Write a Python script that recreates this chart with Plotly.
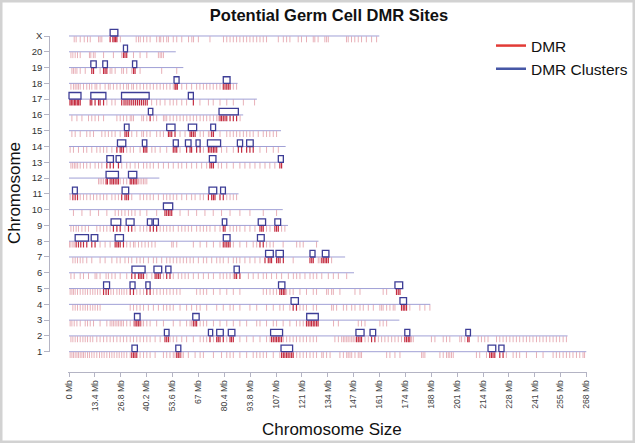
import plotly.graph_objects as go

# ---------------- data ----------------
chromosomes = ["1", "2", "3", "4", "5", "6", "7", "8", "9", "10", "11", "12", "13",
               "14", "15", "16", "17", "18", "19", "20", "X"]
chrom_length_mb = [267.9, 258.2, 171.1, 187.1, 173.1, 147.6, 143.0, 129.2, 113.4, 110.7,
                   87.8, 46.8, 111.2, 112.2, 109.8, 90.2, 97.3, 87.3, 59.2, 55.3, 160.7]

x_tick_values = [0, 13.4, 26.8, 40.2, 53.6, 67, 80.4, 93.8, 107.2, 120.6, 134, 147.4, 160.8,
                 174.2, 187.6, 201, 214.4, 227.8, 241.2, 254.6, 268]
x_tick_labels = ["0 Mb", "13.4 Mb", "26.8 Mb", "40.2 Mb", "53.6 Mb", "67 Mb", "80.4 Mb",
                 "93.8 Mb", "107 Mb", "121 Mb", "134 Mb", "147 Mb", "161 Mb", "174 Mb",
                 "188 Mb", "201 Mb", "214 Mb", "228 Mb", "241 Mb", "255 Mb", "268 Mb"]

# DMR positions (Mb) per chromosome
dmr_chr1 = [0.6, 1.5, 2.3, 3.2, 4.1, 4.9, 5.8, 6.7, 7.5, 8.4, 9.6, 10.6, 11.8, 13, 14.4, 15.8, 17,
            18.2, 19.6, 21, 22.2, 23.4, 24.8, 26, 27.3, 28.5, 29.9, 31.7, 32.5, 33.4, 34.2, 35.1,
            36.8, 38.6, 40.3, 42, 44.6, 48.9, 50.6, 52.3, 54, 54.9, 55.8, 56.6, 57.5, 58.4, 59.2,
            61.8, 65.3, 67.9, 69.6, 74.8, 79, 81.7, 83.4, 85.1, 88.5, 92, 95.4, 97.2, 98.9, 100.6,
            102.3, 105.8, 109.2, 110.1, 111, 111.8, 112.7, 113.5, 114.4, 115.3, 116.1, 117.9,
            119.6, 121.3, 123, 124.8, 126.5, 128.2, 130.9, 131.7, 133.4, 135.2, 140.3, 142.1,
            143.8, 144.6, 145.5, 146.4, 148.1, 149.8, 150.7, 151.5, 164.5, 166.2, 168.8, 171.4,
            182.6, 183.4, 184.3, 192.1, 193.8, 195.5, 196.4, 197.2, 198.1, 199, 211, 212.7,
            216.2, 217.9, 218.8, 219.6, 220.5, 223.1, 224.8, 226.5, 230, 231.7, 233.4, 236.9,
            242.1, 245.5, 250.7, 252.4, 254.1, 255.9, 257.6, 259.3, 261, 262.8, 264.5, 266.2, 267]
dmr_chr2 = [1, 2, 3.2, 4.4, 5.8, 7.2, 8.4, 9.6, 11, 12.3, 14.4, 16.1, 17.9, 19.6, 21.3, 23, 24.8,
            26.5, 28.2, 29.9, 31.7, 33.4, 35.1, 36.8, 38.6, 40.3, 42, 44.6, 47.2, 49.7, 50.6, 51.5,
            52.3, 54, 55.8, 58.4, 60.9, 64.4, 67.9, 69.6, 71.3, 73, 74.8, 76.5, 77.3, 78.2, 79.9,
            81.7, 83.4, 84.2, 85.1, 88.5, 92, 95.4, 98.9, 102.3, 104.1, 104.9, 105.8, 106.7, 107.5,
            108.4, 109.2, 110.1, 111, 112.7, 114.4, 116.1, 117.8, 119.6, 121.3, 123, 124.8, 126.5,
            128.2, 137.7, 139.5, 141.2, 142.1, 142.9, 143.8, 144.6, 145.5, 146.4, 147.2, 148.1,
            148.9, 149.8, 150.7, 151.5, 153.3, 155, 156.7, 158.4, 160.2, 161.9, 163.6, 165.3,
            167.1, 168.8, 170.5, 172.2, 173.9, 174.8, 175.7, 176.5, 177.4, 178.3, 187.7, 189.5,
            193.8, 195.5, 197.2, 202.4, 203.3, 205, 206.5, 207.2, 211.9, 213.6, 215.3, 217,
            221.4, 223.1, 224.8, 226.5, 228.3, 230, 231.7, 233.4, 235.2, 236.9, 238.6, 240.3,
            242.1, 243.8, 245.5, 247.2, 249, 250.7, 252.4, 254.1, 255.9, 257.6]
dmr_chr3 = [0.6, 1.5, 2.7, 4.1, 5.8, 8.4, 9.6, 11, 12.7, 16.1, 19.6, 21.3, 22.2, 23, 23.9, 24.8,
            25.6, 26.5, 27.3, 28.2, 29.9, 31.7, 33.4, 34.2, 35.1, 35.9, 36.8, 37.7, 38.6, 40.3, 42,
            45.4, 48.9, 54, 57.5, 60.9, 62.7, 63.5, 64.4, 65.3, 66.1, 67.9, 69.6, 71.3, 74.8, 78.2,
            81.7, 85.1, 88.5, 92, 97.2, 98.9, 102.3, 105.8, 107.5, 110.9, 114.4, 117.8, 119.6,
            121.3, 123, 123.9, 124.8, 125.6, 126.5, 127.3, 128.2, 129, 137, 139.5, 149.8, 151.5,
            153.3, 161, 162.7, 164.5]
dmr_chr4 = [2, 3.2, 4.4, 5.8, 7.2, 8.4, 9.6, 11, 12.3, 13.5, 14.8, 16.1, 31.7, 33.4, 35.1, 36.8,
            38.6, 41.1, 43.7, 46.3, 48.9, 50.6, 52.3, 54, 57.5, 60.9, 63.5, 66.1, 67.9, 71.3, 76.5,
            79.9, 83.4, 85.1, 88.5, 93.7, 97.2, 102.3, 105.8, 109.2, 111, 114.4, 116.1, 117.8,
            119.6, 121.3, 123, 126.5, 128.2, 136, 136.9, 138.6, 142.1, 143.8, 146.4, 148.1, 150.7,
            152.4, 155, 157.6, 161, 161.9, 162.7, 164.5, 166.2, 167.9, 168.8, 172.2, 173.1, 173.9,
            174.8, 176.5, 181.7, 184.3, 186.9]
dmr_chr5 = [0.6, 1.5, 2.3, 3.2, 4.4, 5.8, 7.2, 8.4, 9.6, 11, 12.3, 13.5, 14.8, 16.1, 17.9, 19.2,
            20.4, 21.7, 23, 24.8, 26.1, 27.3, 28.5, 29.9, 31.7, 33.4, 35.1, 36.8, 38.6, 40.3, 42,
            43.7, 45.5, 47.2, 48.9, 50.6, 52.3, 54, 55.8, 57.5, 66.1, 67.9, 69.6, 71.3, 74.8, 78.2,
            81.7, 85.1, 88.5, 100.6, 102.3, 104.1, 105.8, 107.5, 109.2, 110.1, 111, 111.8, 112.7,
            114.4, 116.1, 119.6, 123, 126.5, 128.2, 133.4, 134.3, 136, 136.9, 140.3, 148.1, 150.7,
            162.7, 164.5, 169.6, 170.5, 171.4]
dmr_chr6 = [1, 2.7, 5.8, 7.5, 10.1, 13.5, 14.4, 16.1, 19.2, 20.4, 22.2, 23.9, 26.5, 29.9, 32.5,
            34.2, 36, 36.8, 37.7, 38.6, 40.3, 42.9, 44.6, 45.5, 46.3, 47.2, 48.9, 50.6, 52.3, 54,
            56.6, 58.4, 60.1, 61.8, 64.4, 67, 69.6, 72.2, 74.8, 78.2, 79.9, 81.7, 83.4, 85.1, 85.9,
            86.8, 88.5, 92.9, 95.4, 98, 100.6, 102.3, 104.9, 107.5, 110.1, 113.6, 116.2, 117.9,
            119.6, 122.2, 124.8, 126.5, 128.3, 130.9, 134.3, 136.9, 139.5, 143.8]
dmr_chr7 = [2, 3.2, 4.4, 5.8, 7.2, 9.2, 11.8, 16.1, 18.7, 22.2, 24.8, 26.5, 29, 30.8, 32.5, 35.1,
            36.8, 38.6, 41.1, 43.7, 45.4, 48, 50.6, 52.3, 54, 55.8, 57.5, 59.2, 60.9, 62.7, 64.4,
            67, 69.6, 71.3, 73.9, 76.5, 78.2, 79.9, 82.5, 85.1, 86.8, 88.5, 91.1, 93.7, 96.3, 98.9,
            101.5, 103.2, 104.1, 104.9, 107.5, 108.4, 109.3, 111, 116.1, 124.8, 125.7, 126.5,
            129.1, 130, 130.9, 131.7, 132.6, 133.4, 134.3, 136]
dmr_chr8 = [0.3, 1, 2, 2.7, 3.7, 4.9, 6.1, 7.5, 9.2, 11.8, 13.5, 16.1, 18.7, 21.3, 23.9, 24.8,
            25.6, 26.5, 28.2, 29.9, 31.7, 33.4, 34.2, 36, 37.7, 39.4, 41.1, 42.9, 44.6, 53.2, 54,
            55.8, 64.4, 67.9, 71.3, 74.8, 78.2, 79.9, 80.8, 81.7, 82.5, 83.4, 85.1, 88.5, 92, 95.4,
            97.2, 98.9, 100.6, 102.3, 104.1, 105.8, 110.9, 117.9, 119.6, 121.3, 128.2]
dmr_chr9 = [1, 2.3, 3.7, 4.9, 6.7, 8.4, 10.1, 14.4, 16.1, 17.9, 19.6, 21.3, 23, 24.8, 26.5, 29,
            30.8, 32.5, 34.2, 36.8, 38.6, 40.3, 42, 43.7, 45.4, 47.2, 48.9, 50.6, 52.3, 54, 56.6,
            58.4, 60.1, 61.8, 63.5, 66.1, 67.9, 69.6, 71.3, 73, 75.6, 78.2, 79.9, 80.8, 83.4, 85.1,
            86.8, 88.5, 91.1, 93.7, 96.3, 98.9, 99.8, 100.6, 102.3, 104.1, 106.6, 107.5, 108.4,
            110.1, 111.8]
dmr_chr10 = [2.3, 6.7, 11, 15.3, 19.6, 23.9, 25.6, 27.3, 29, 30.8, 32.5, 34.2, 36.8, 40.3, 45.4,
             49.7, 50.6, 51.5, 52.3, 53.2, 57.5, 61.8, 66.1, 70.4, 74.7, 79, 83.4, 88.5, 93.7,
             100.6, 107.5]
dmr_chr11 = [0.6, 2, 3.2, 4.4, 5.8, 7.5, 9.2, 11, 12.7, 14.4, 16.1, 17.9, 19.6, 22.2, 23.9, 25.6,
             27.3, 29, 29.9, 30.8, 32.5, 36.8, 38.6, 40.3, 42, 43.7, 46.3, 48.9, 50.6, 52.3, 54,
             55.8, 58.4, 60.9, 63.5, 65.3, 67.9, 69.6, 72.2, 73.9, 74.8, 75.6, 78.2, 79.9, 81.7,
             83.4, 85.1, 86.8]
dmr_chr12 = [15.3, 16.1, 17, 17.9, 19.2, 19.9, 21.3, 22.2, 23, 23.9, 24.8, 25.6, 26.5, 28.2, 29.9,
             31.7, 32.5, 33.4, 34.2, 35.1, 36, 36.8, 37.7, 38.6, 39.4, 40.3]
dmr_chr13 = [1, 1.9, 2.8, 3.6, 4.5, 5.8, 7.5, 9.2, 11, 13.5, 15.3, 17, 19.6, 21.3, 23, 25.6, 27.3,
             29.9, 31.7, 34.2, 36, 38.6, 40.3, 42, 43.7, 46.3, 48.9, 51.5, 54, 56.6, 58.4, 60.9,
             63.5, 66.1, 68.7, 71.3, 73, 73.9, 74.8, 77.3, 79, 81.7, 85.1, 88.5, 91.1, 93.7, 96.3,
             98.9, 101.5, 104, 106.6, 109.2, 110.1]
dmr_chr14 = [0.6, 2.3, 4.9, 7.5, 9.2, 11.8, 14.4, 16.1, 17.9, 19.6, 22.2, 24.8, 26.5, 27.3, 28.2,
             29.9, 31.7, 33.4, 36.8, 38.6, 39.4, 40.3, 42.9, 44.6, 47.2, 50.6, 54, 54.9, 55.8,
             57.5, 60.9, 62.7, 63.5, 66.1, 67.9, 69.6, 72.2, 73, 73.9, 74.8, 75.6, 76.5, 79, 81.7,
             85.1, 87.7, 89.4, 92, 93.7, 95.4, 98.9, 102.3, 105.8, 108.4]
dmr_chr15 = [1.5, 3.2, 5.8, 9.2, 10.9, 12.7, 17, 18.7, 20.4, 22.2, 23.9, 26.5, 29, 29.9, 30.8,
             32.5, 35.1, 37.7, 38.6, 40.3, 42, 45.4, 47.2, 48.9, 51.5, 52.3, 53.2, 54.9, 57.5,
             60.1, 62.7, 63.5, 64.4, 65.3, 67.9, 69.6, 72.2, 73, 73.9, 74.8, 78.2, 81.7, 83.4,
             85.1, 86.8, 88.5, 90.3, 92, 93.7, 95.4, 98, 100.6, 102.3, 104, 105.8, 107.5]
dmr_chr16 = [1.5, 4.1, 6.7, 10.1, 11.8, 13.5, 15.3, 17.9, 24.8, 26.5, 28.2, 29.9, 31.7, 32.5,
             33.4, 37.7, 38.6, 40.3, 42, 43.7, 45.4, 48.9, 49.7, 50.6, 52.3, 54, 55.8, 57.5, 59.2,
             61, 62.7, 64.4, 66.1, 67.9, 69.6, 71.3, 73, 74.8, 76.5, 77.3, 78.2, 79, 79.9, 80.8,
             81.7, 83.4, 85.1, 86.8, 88.6]
dmr_chr17 = [0.5, 1.2, 2, 2.8, 3.5, 4.3, 5, 5.8, 11, 11.8, 13.5, 15.3, 16.1, 17.9, 19.6, 22.2,
             23.9, 27.3, 28.5, 29.5, 30.5, 31.5, 32.5, 33.5, 34.5, 35.5, 36.5, 37.5, 38.5, 39.5,
             40.5, 42.8, 45.4, 47.2, 49.7, 52.3, 54, 55.8, 58.4, 60.9, 64.4, 67.8, 72.2, 74.7,
             78.2, 81.7, 85.1, 90.3, 96.1]
dmr_chr18 = [1, 2.3, 3.2, 4.1, 4.9, 5.8, 7.5, 9.2, 10.6, 11.8, 13.5, 14.4, 16.1, 18.7, 20.4, 21.3,
             23, 24.8, 26.5, 28.2, 29.9, 30.8, 32.5, 33.4, 35.1, 36.8, 38.6, 40.3, 42, 43.7, 45.5,
             47.2, 48.9, 50.6, 52.3, 54, 54.9, 55.4, 56.1, 58.4, 60.9, 63.5, 66.1, 67.8, 69.6,
             71.3, 73, 74.7, 76.5, 78.2, 79.9, 80.8, 81.7, 82.5, 83.4, 85.1, 86.8]
dmr_chr19 = [1.5, 2.3, 3.2, 4.1, 5.8, 8.4, 11.8, 12.7, 16.1, 17.9, 18.7, 19.6, 21.3, 22.2, 23.9,
             27.3, 28.2, 29.9, 32.5, 33.4, 34.2, 36.8, 48, 55.8]
dmr_chr20 = [1, 2, 3.2, 4.4, 5.8, 10.6, 11.3, 12.6, 13.5, 17.9, 23, 27.3, 28.2, 29, 29.9, 33.4,
             36.8, 40.3, 46.3, 47.2, 48, 48.9]
dmr_chrX = [2.7, 3.7, 5.8, 7.9, 9.6, 11, 15.3, 16.1, 17, 21.3, 22.7, 23.4, 24.1, 24.8, 26.6, 34.8,
            36, 36.9, 38.6, 40.3, 42, 45.4, 46.8, 47.5, 48.9, 50.6, 51.5, 54, 55.8, 58.4, 61.9,
            63.6, 64.5, 67, 73, 80, 81.7, 83.4, 85.1, 86.8, 88.5, 90.3, 92, 93.7, 95.4, 97.2, 98.9,
            100.6, 102.3, 108.4, 111, 112.7, 114.4, 118.7, 120.4, 123, 126.5, 127.3, 129, 132.5,
            133.4, 134.3, 143.7, 144.6, 146.3, 148, 149.8, 151.5, 154, 156.7, 159.3]

# DMR clusters (start Mb, end Mb) per chromosome
clusters_chr1 = [(32.6, 35.4), (55.3, 57.9), (109.8, 115.8), (217.0, 221.0), (222.6, 225.3)]
clusters_chr2 = [(49.4, 51.8), (72.2, 74.4), (76.5, 79.9), (82.5, 85.9), (104.4, 110.6),
                 (148.6, 152.8), (155.9, 158.8), (173.9, 176.5), (205.5, 207.9)]
clusters_chr3 = [(33.9, 36.8), (64.1, 67.4), (123.1, 129.1)]
clusters_chr4 = [(115.0, 118.8), (171.4, 174.8)]
clusters_chr5 = [(17.9, 21.0), (31.6, 34.2), (39.8, 42.0), (108.5, 111.8), (168.8, 172.8)]
clusters_chr6 = [(32.6, 39.4), (44.0, 48.0), (50.1, 52.8), (85.5, 88.2)]
clusters_chr7 = [(101.8, 105.8), (107.2, 111.0), (124.8, 127.4), (131.2, 134.6)]
clusters_chr8 = [(3.2, 10.1), (11.5, 14.9), (23.9, 28.2), (79.9, 83.4), (97.6, 101.1)]
clusters_chr9 = [(21.8, 26.8), (29.6, 33.7), (40.6, 43.0), (43.7, 46.3), (79.4, 81.7),
                 (98.0, 101.8), (106.6, 109.6)]
clusters_chr10 = [(48.9, 53.7)]
clusters_chr11 = [(1.8, 4.3), (27.5, 30.9), (72.5, 76.5), (78.5, 81.0)]
clusters_chr12 = [(19.2, 25.6), (30.8, 35.1)]
clusters_chr13 = [(19.6, 23.0), (24.4, 26.8), (72.7, 76.1), (108.4, 111.0)]
clusters_chr14 = [(25.1, 29.4), (38.0, 40.3), (54.0, 56.6), (60.3, 63.2), (65.8, 67.9),
                  (71.7, 78.5), (87.2, 89.9), (92.0, 95.4)]
clusters_chr15 = [(28.7, 31.1), (50.6, 54.9), (61.8, 66.1), (73.4, 75.9)]
clusters_chr16 = [(41.1, 43.4), (77.7, 87.7)]
clusters_chr17 = [(0.0, 6.2), (11.3, 19.1), (27.2, 41.5), (61.8, 64.4)]
clusters_chr18 = [(54.4, 57.0), (79.9, 83.4)]
clusters_chr19 = [(11.3, 14.1), (17.5, 19.9), (32.9, 35.1)]
clusters_chr20 = [(28.2, 30.3)]
clusters_chrX = [(21.3, 25.3)]

# ---------------- assemble ----------------
dmr_lists = [dmr_chr1, dmr_chr2, dmr_chr3, dmr_chr4, dmr_chr5, dmr_chr6, dmr_chr7, dmr_chr8,
             dmr_chr9, dmr_chr10, dmr_chr11, dmr_chr12, dmr_chr13, dmr_chr14, dmr_chr15,
             dmr_chr16, dmr_chr17, dmr_chr18, dmr_chr19, dmr_chr20, dmr_chrX]
cluster_lists = [clusters_chr1, clusters_chr2, clusters_chr3, clusters_chr4, clusters_chr5,
                 clusters_chr6, clusters_chr7, clusters_chr8, clusters_chr9, clusters_chr10,
                 clusters_chr11, clusters_chr12, clusters_chr13, clusters_chr14, clusters_chr15,
                 clusters_chr16, clusters_chr17, clusters_chr18, clusters_chr19, clusters_chr20,
                 clusters_chrX]

W, H = 635, 443
TICK_TOP, TICK_BOT = 0.03, 0.40
RECT_H = 0.42

bx, by = [], []
lx, ly = [], []
dx, dy = [], []
cx, cy = [], []
for i, name in enumerate(chromosomes):
    row = i + 1
    bx += [0, chrom_length_mb[i], None]
    by += [row, row, None]
    cl = cluster_lists[i]
    for p in dmr_lists[i]:
        inside = any(s - 0.3 <= p <= e + 0.3 for s, e in cl)
        if inside:
            dx += [p, p, None]
            dy += [row - TICK_TOP, row - TICK_BOT, None]
        else:
            lx += [p, p, None]
            ly += [row - TICK_TOP, row - TICK_BOT, None]
    for s, e in cl:
        cx += [s, e, e, s, s, None]
        cy += [row, row, row + RECT_H, row + RECT_H, row, None]

fig = go.Figure()
fig.add_trace(go.Scatter(x=bx, y=by, mode="lines", line=dict(color="#a0a0d6", width=1),
                         hoverinfo="skip", showlegend=False))
fig.add_trace(go.Scatter(x=lx, y=ly, mode="lines", line=dict(color="rgba(205,80,98,0.45)", width=1),
                         hoverinfo="skip", showlegend=False))
fig.add_trace(go.Scatter(x=dx, y=dy, mode="lines", line=dict(color="#c42c40", width=1.2),
                         hoverinfo="skip", showlegend=False))
fig.add_trace(go.Scatter(x=cx, y=cy, mode="lines", line=dict(color="#3d3d96", width=1.3),
                         hoverinfo="skip", showlegend=False))
# legend entries
fig.add_trace(go.Scatter(x=[None], y=[None], mode="lines", name="DMR",
                         line=dict(color="#e23b36", width=2.5)))
fig.add_trace(go.Scatter(x=[None], y=[None], mode="lines", name="DMR Clusters",
                         line=dict(color="#4657a6", width=2.5)))
# display axis carrier
fig.add_trace(go.Scatter(x=[None], y=[None], yaxis="y2", showlegend=False, hoverinfo="skip"))

# pixel geometry
x0_px, x1_px = 69.0, 586.5
row1_px, rowX_px = 351.7, 36.0
per_row = (row1_px - rowX_px) / 20.0
y_lo, y_hi = 0.55, 21.5
px_per_mb = (x1_px - x0_px) / 268.0
xr = [-0.5, 268.5]
xd = [(x0_px - 0.5 * px_per_mb) / W, (x1_px + 0.5 * px_per_mb) / W]
yd = [1 - (row1_px + (1 - y_lo) * per_row) / H, 1 - (rowX_px - (y_hi - 21) * per_row) / H]
yd2 = [1 - row1_px / H, 1 - rowX_px / H]
axis_col = "#b4b4c4"

fig.update_layout(
    width=W, height=H, autosize=False,
    margin=dict(l=0, r=0, t=0, b=0, pad=0, autoexpand=False),
    paper_bgcolor="white", plot_bgcolor="rgba(0,0,0,0)",
    font=dict(family="Liberation Sans, Arial, sans-serif", color="#222"),
    title=dict(text="<b>Potential Germ Cell DMR Sites</b>", x=329 / W, y=1 - 15 / H,
               xref="paper", yref="container", xanchor="center", yanchor="middle",
               font=dict(size=16.5, color="#111")),
    xaxis=dict(domain=xd, range=xr, anchor="free", position=1 - 371.7 / H, automargin=False,
               showgrid=False, zeroline=False, showline=True, linecolor=axis_col, linewidth=1,
               ticks="outside", ticklen=4, tickcolor=axis_col, tickwidth=1,
               tickvals=x_tick_values, ticktext=x_tick_labels, tickangle=-90,
               tickfont=dict(size=8.6, color="#444")),
    yaxis=dict(domain=yd, range=[y_lo, y_hi], anchor="free", position=xd[0], automargin=False,
               showgrid=False, zeroline=False, showline=False, showticklabels=False, ticks=""),
    yaxis2=dict(domain=yd2, range=[1, 21], anchor="free", position=49.3 / W, automargin=False,
                showgrid=False, zeroline=False, showline=True, linecolor=axis_col, linewidth=1,
                ticks="outside", ticklen=5, tickcolor=axis_col,
                tickvals=list(range(1, 22)), ticktext=chromosomes,
                tickfont=dict(size=9.5, color="#333")),
    legend=dict(x=1 - 2 / W, y=1 - 29 / H, xanchor="right", yanchor="top",
                bgcolor="rgba(0,0,0,0)", font=dict(size=15.5, color="#111"),
                tracegroupgap=0, itemwidth=30),
    showlegend=True,
    annotations=[
        dict(text="Chromosome", x=15 / W, y=1 - 193 / H, xref="paper", yref="paper",
             showarrow=False, textangle=-90, font=dict(size=17, color="#111"),
             xanchor="center", yanchor="middle"),
        dict(text="Chromosome Size", x=332 / W, y=1 - 429 / H, xref="paper", yref="paper",
             showarrow=False, font=dict(size=17, color="#111"),
             xanchor="center", yanchor="middle"),
    ],
    shapes=[dict(type="rect", xref="paper", yref="paper", x0=0, y0=0, x1=1, y1=1,
                 line=dict(color="#d2d2d2", width=5), layer="above")],
)

fig.write_html("out.html",
               config={"displayModeBar": False, "staticPlot": True},
               post_script="document.body.style.margin='0px';document.body.style.padding='0px';"
                           "document.body.style.overflow='hidden';")
